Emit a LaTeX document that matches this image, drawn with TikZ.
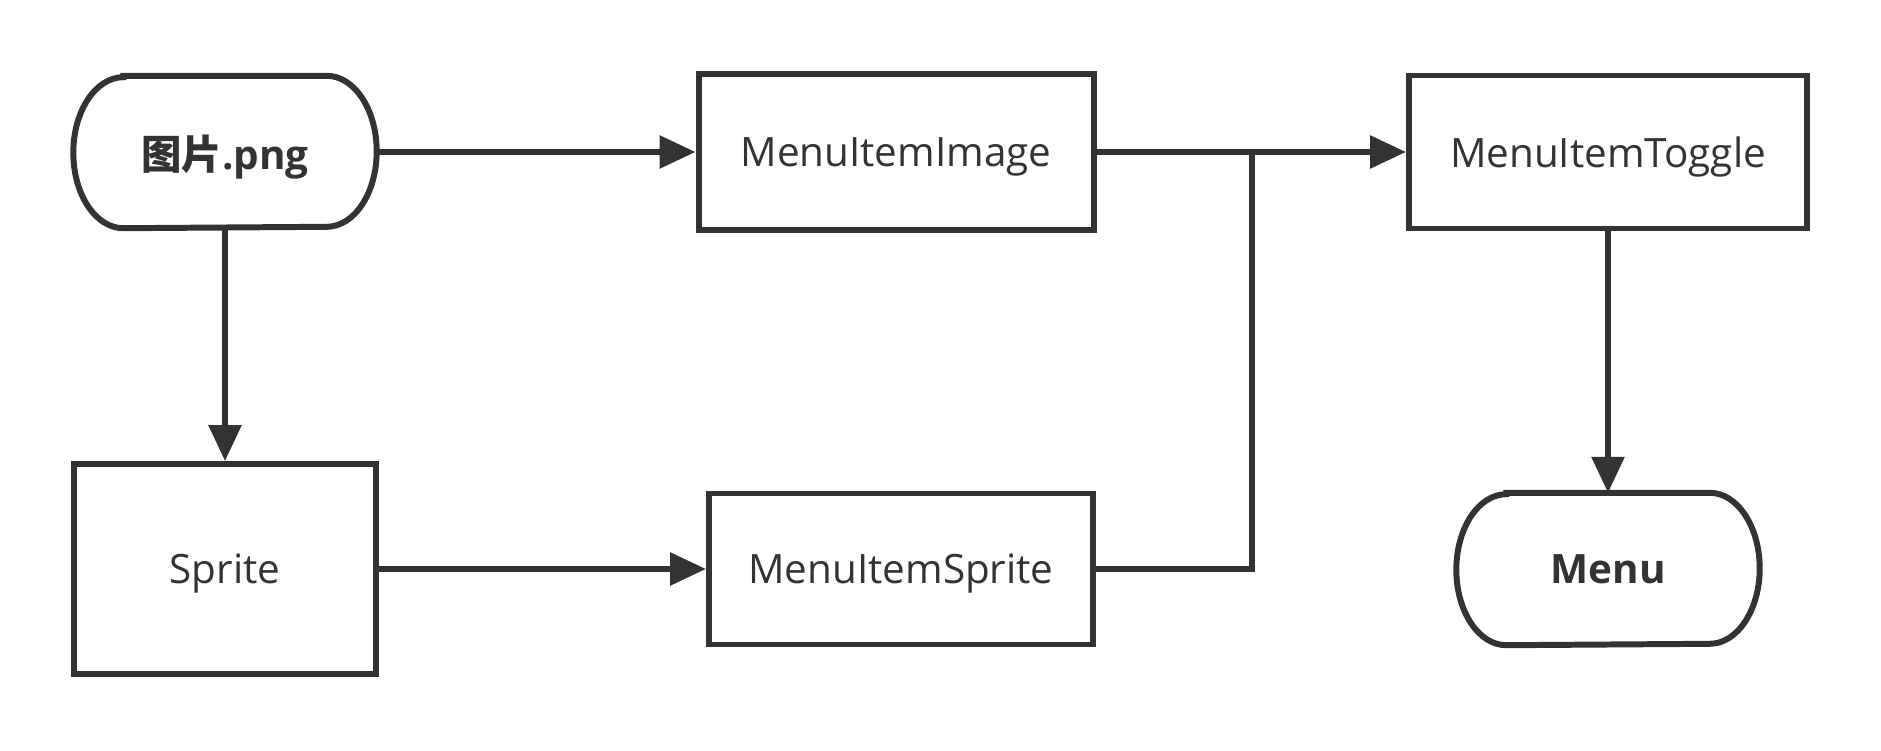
\documentclass[tikz,border=0pt]{standalone}
\usepackage{fontspec}
\setmainfont{Open Sans}
\newfontfamily\cjk{Noto Sans CJK SC}
\usetikzlibrary{arrows.meta,positioning}
\definecolor{ink}{HTML}{333333}

\begin{document}
\begin{tikzpicture}[x=0.1mm, y=-0.1mm, >={Triangle[length=3.6mm,width=3.2mm]},
    box/.style={draw=ink, line width=1.7pt, text=ink, font=\fontsize{11.5}{14}\selectfont,
      inner sep=0pt, text depth=0pt},
    term/.style={text=ink, font=\fontsize{11.5}{14}\selectfont\bfseries, inner sep=0pt,
      text depth=0pt, minimum width=30.2mm, minimum height=15.1mm},
    line/.style={draw=ink, line width=1.7pt}]
  \useasboundingbox (0,0) rectangle (1881,750);
  % 上排
  \node[term] (png) at (225,152) {{\cjk\bfseries 图片}.png};
  \node[box, minimum width=39.5mm, minimum height=15.6mm] (img) at (896,152) {MenuItemImage};
  \node[box, minimum width=39.8mm, minimum height=15.3mm] (tog) at (1608,152) {MenuItemToggle};
  % 下排
  \node[box, minimum width=30.2mm, minimum height=21mm] (spr) at (225,569) {Sprite};
  \node[box, minimum width=38.4mm, minimum height=15.1mm] (msp) at (901,569) {MenuItemSprite};
  \node[term] (menu) at (1608,569) {Menu};
  \coordinate (joint) at (1252,152);
  % 两端是半椭圆的框
  \foreach \t in {png, menu}
    \draw[line] ([xshift=5mm]\t.north west) -- ([xshift=-5mm]\t.north east)
      arc[start angle=90, end angle=-90, x radius=5mm, y radius=7.55mm]
      -- ([xshift=5mm]\t.south west)
      arc[start angle=270, end angle=90, x radius=5mm, y radius=7.55mm] -- cycle;
  % 连线
  \draw[line, ->] (png) -- (img);
  \draw[line, ->] (png) -- (spr);
  \draw[line, ->] (spr) -- (msp);
  \draw[line, ->] (img) -- (tog);
  \draw[line] (msp.east) -| (joint);
  \draw[line, ->] (tog) -- (menu);
\end{tikzpicture}
\end{document}
